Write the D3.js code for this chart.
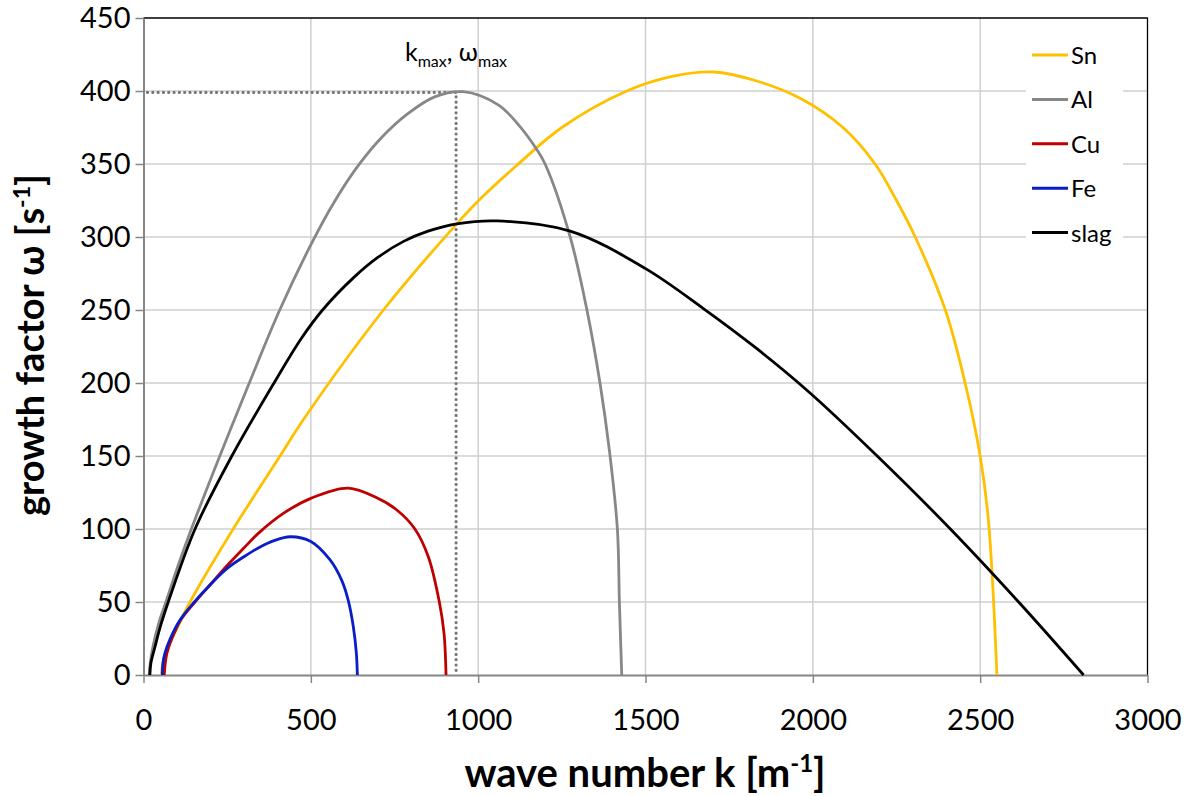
<!DOCTYPE html>
<html>
<head>
<meta charset="utf-8">
<script src="https://cdn.jsdelivr.net/npm/d3@7"></script>
<style>
    body { margin: 0; background: #fff; }
    svg { display: block; }
    text { font-family: Lato, "Open Sans", sans-serif; fill: #000; }
</style>
</head>
<body>
<svg width="1201" height="796"></svg>
<script>
// values: wave number k [1/m] and growth factor w [1/s]
const seriesNames = ["Sn", "Al", "Cu", "Fe", "slag"];
const seriesColors = ["#FFC000", "#878787", "#C00000", "#0A1EC8", "#000000"];

const snK = [54, 56, 62, 74, 100, 139, 268, 408, 478, 717, 936, 1006, 1115, 1250, 1444, 1580, 1703, 1830, 1962, 2090, 2186, 2250, 2306, 2396, 2455, 2500, 2525, 2550];
const snW = [0, 6, 12, 20, 32, 50, 100, 150, 175, 250, 309, 326, 349, 375, 400, 410, 413, 407, 395, 375, 350, 325, 300, 250, 200, 150, 105, 0];

const alK = [17, 20, 27, 45, 67, 105, 143, 228, 316, 405, 503, 570, 642, 715, 787, 870, 955, 1060, 1120, 1175, 1200, 1275, 1325, 1364, 1392, 1416, 1422, 1429];
const alW = [0, 8, 18, 35, 50, 76, 100, 150, 200, 249, 296, 324, 349, 369, 384, 396, 399.5, 390.5, 377, 360, 350, 300, 250, 200, 154, 100, 50, 0];

const cuK = [62, 65, 70, 85, 112, 154, 200, 250, 300, 343, 420, 500, 612, 700, 757, 811, 851, 884, 898, 904];
const cuW = [0, 8, 15, 25, 38, 50, 62, 75, 87, 97, 111, 121, 128, 121, 113, 100, 81, 50, 28.5, 0];

const feK = [56, 58, 64, 80, 110, 152, 200, 250, 300, 343, 390, 438, 500, 557, 592, 612, 627, 636, 639];
const feW = [0, 8, 15, 25, 38, 50, 62, 73, 81, 87, 92, 94.7, 91.5, 79, 65, 51, 33, 15, 0];

const slagK = [19, 22, 34, 50, 74, 154, 264, 390, 470, 535, 627, 700, 777, 850, 936, 1056, 1275, 1499, 1673, 1830, 1990, 2190, 2411, 2615, 2809];
const slagW = [0, 8, 19, 33, 50, 100, 150, 200, 230, 250, 272, 286, 297, 304, 309, 311, 304, 278.5, 251, 224, 193.5, 150.5, 100, 50, 0];

// marked maximum of the Al curve
const kMax = 934;
const wMax = 399;

const xTicks = [0, 500, 1000, 1500, 2000, 2500, 3000];
const yTicks = [0, 50, 100, 150, 200, 250, 300, 350, 400, 450];

const seriesK = [snK, alK, cuK, feK, slagK];
const seriesW = [snW, alW, cuW, feW, slagW];

const svg = d3.select("svg");

const x = d3.scaleLinear().domain([0, 3000]).range([143.5, 1147.5]);
const y = d3.scaleLinear().domain([0, 450]).range([675, 18]);

// grid
const grid = svg.append("g");
grid.selectAll(".vgrid")
    .data(xTicks.slice(1, -1))
    .enter()
    .append("line")
    .attr("x1", (d) => x(d)).attr("x2", (d) => x(d))
    .attr("y1", y(0)).attr("y2", y(450))
    .style("stroke", "#cfcfcf").style("stroke-width", 1.5);
grid.selectAll(".hgrid")
    .data(yTicks.slice(1, -1))
    .enter()
    .append("line")
    .attr("x1", x(0)).attr("x2", x(3000))
    .attr("y1", (d) => y(d)).attr("y2", (d) => y(d))
    .style("stroke", "#cfcfcf").style("stroke-width", 1.5);

// plot area border (top, right)
svg.append("path")
    .attr("d", `M${x(0)},${y(450)}H${x(3000)}V${y(0)}`)
    .style("fill", "none").style("stroke", "#000").style("stroke-width", 1.3);

// dotted guide lines to k_max / w_max
const dotted = svg.append("g")
    .style("stroke", "#777").style("stroke-width", 3.2)
    .style("stroke-dasharray", "0.01 5.3").style("stroke-linecap", "round");
dotted.append("line")
    .attr("x1", x(0) + 4).attr("x2", x(kMax))
    .attr("y1", y(wMax)).attr("y2", y(wMax));
dotted.append("line")
    .attr("x1", x(kMax)).attr("x2", x(kMax))
    .attr("y1", y(wMax - 3)).attr("y2", y(0));

// axes
const xAxis = svg.append("g")
    .attr("transform", `translate(0,${y(0)})`)
    .call(d3.axisBottom(x).tickValues(xTicks).tickFormat(d3.format("d"))
        .tickSize(8).tickPadding(26).tickSizeOuter(0));
const yAxis = svg.append("g")
    .attr("transform", `translate(${x(0)},0)`)
    .call(d3.axisLeft(y).tickValues(yTicks).tickFormat(d3.format("d"))
        .tickSize(8).tickPadding(5).tickSizeOuter(0));

[xAxis, yAxis].forEach((a) => {
    a.select(".domain").style("stroke", "#868686").style("stroke-width", 2);
    a.selectAll(".tick line").style("stroke", "#868686").style("stroke-width", 1.5);
    a.selectAll(".tick text")
        .style("font-family", "Lato, 'Open Sans', sans-serif")
        .style("font-size", "29px")
        .style("fill", "#000");
});

// curves
const line = d3.line()
    .x((d) => x(d[0]))
    .y((d) => y(d[1]))
    .curve(d3.curveCatmullRom.alpha(0.5));

const seriesData = seriesNames.map((name, i) => ({
    name: name,
    color: seriesColors[i],
    points: seriesK[i].map((k, j) => [k, seriesW[i][j]])
}));

svg.append("g")
    .selectAll(".curve")
    .data(seriesData)
    .enter()
    .append("path")
    .attr("d", (d) => line(d.points))
    .style("fill", "none")
    .style("stroke", (d) => d.color)
    .style("stroke-width", 2.8)
    .style("stroke-linejoin", "round");

// annotation
const note = svg.append("text")
    .attr("x", 405).attr("y", 61)
    .style("font-size", "25px");
note.append("tspan").text("k");
note.append("tspan").attr("dy", 6).style("font-size", "16px").text("max");
note.append("tspan").attr("dy", -6).text(", ω");
note.append("tspan").attr("dy", 6).style("font-size", "16px").text("max");

// legend
const legend = svg.append("g");
legend.append("rect")
    .attr("x", 1026).attr("y", 33).attr("width", 97).attr("height", 222)
    .style("fill", "#fff");
const items = legend.selectAll(".item")
    .data(seriesData)
    .enter()
    .append("g")
    .attr("transform", (d, i) => `translate(0,${55 + i * 44.4})`);
items.append("line")
    .attr("x1", 1032).attr("x2", 1068)
    .style("stroke", (d) => d.color)
    .style("stroke-width", 3);
items.append("text")
    .attr("x", 1071).attr("y", 9)
    .style("font-size", "24px")
    .text((d) => d.name);

// axis titles
const xTitle = svg.append("text")
    .attr("x", 645).attr("y", 787)
    .attr("text-anchor", "middle")
    .style("font-size", "40px").style("font-weight", "bold");
xTitle.append("tspan").text("wave number k [m");
xTitle.append("tspan").attr("dy", -15).style("font-size", "24px").text("-1");
xTitle.append("tspan").attr("dy", 15).text("]");

const yTitle = svg.append("text")
    .attr("transform", "translate(44,345) rotate(-90)")
    .attr("text-anchor", "middle")
    .style("font-size", "38px").style("font-weight", "bold");
yTitle.append("tspan").text("growth factor ω [s");
yTitle.append("tspan").attr("dy", -14).style("font-size", "23px").text("-1");
yTitle.append("tspan").attr("dy", 14).text("]");
</script>
</body>
</html>
